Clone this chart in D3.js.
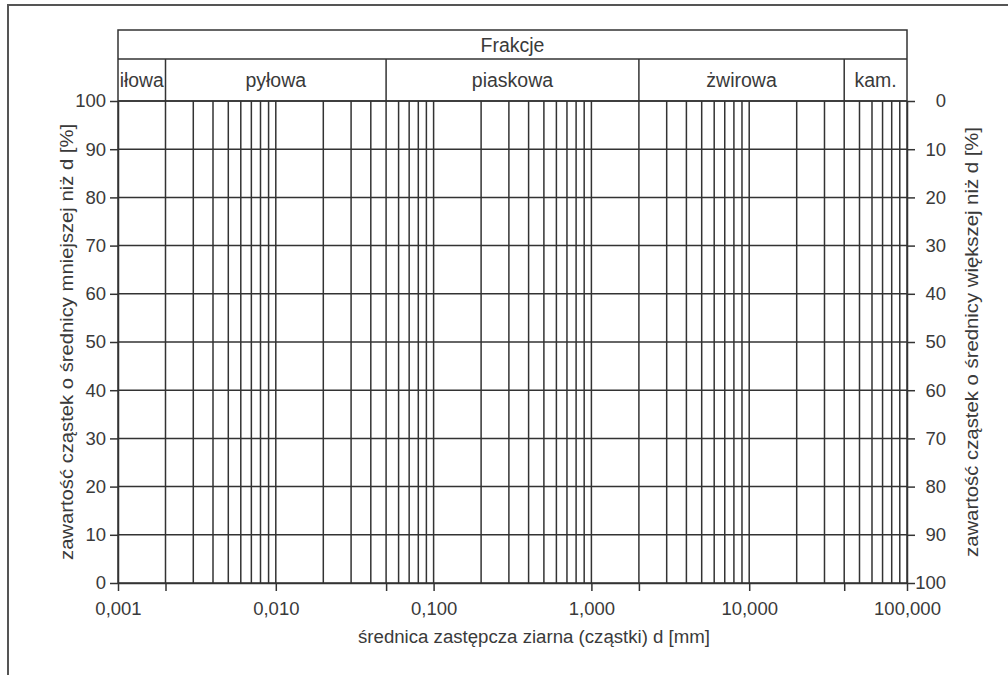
<!DOCTYPE html>
<html>
<head>
<meta charset="utf-8">
<title>Krzywa uziarnienia</title>
<script src="https://cdn.jsdelivr.net/npm/d3@7"></script>
<style>
  body { margin: 0; background: #fff; }
  text { font-family: "Liberation Sans", Arial, sans-serif; fill: #3a3a3a; }
</style>
</head>
<body>
<svg id="chart" width="1008" height="675"></svg>
<script>
// dane
var fractionNames = ["iłowa", "pyłowa", "piaskowa", "żwirowa", "kam."];
var fractionBounds = [0.001, 0.002, 0.05, 2, 40, 100];
var xTickValues = [0.001, 0.01, 0.1, 1, 10, 100];
var yTickValues = [0, 10, 20, 30, 40, 50, 60, 70, 80, 90, 100];
var headerTitle = "Frakcje";
var xTitle = "średnica zastępcza ziarna (cząstki) d [mm]";
var yTitleLeft = "zawartość cząstek o średnicy mniejszej niż d [%]";
var yTitleRight = "zawartość cząstek o średnicy większej niż d [%]";

var svg = d3.select("#chart");
var lineColor = "#333";

// ramka zewnętrzna
svg.append("rect")
   .attr("x", 8).attr("y", 5)
   .attr("width", 1100).attr("height", 800)
   .attr("fill", "none").attr("stroke", "#555").attr("stroke-width", 2);

// uwaga: "top" to window.top, stąd inne nazwy
var pLeft = 118, pRight = 907, pTop = 101, pBottom = 583;
var x = d3.scaleLog().domain([0.001, 100]).range([pLeft, pRight]);
var y = d3.scaleLinear().domain([0, 100]).range([pBottom, pTop]);
var yR = d3.scaleLinear().domain([100, 0]).range([pBottom, pTop]);

var pl = d3.formatLocale({decimal: ",", thousands: " ", grouping: [3], currency: ["", ""]});
var fmt = pl.format(".3f");

// siatka pionowa (2..9 w każdej dekadzie + dekady)
var gridX = [];
for (var e = -3; e < 2; e++) {
    for (var m = 2; m <= 9; m++) {
        gridX.push(m * Math.pow(10, e));
    }
}
gridX = gridX.concat(xTickValues);
svg.append("g").selectAll("line")
   .data(gridX)
   .enter().append("line")
   .attr("x1", function(d){ return x(d); })
   .attr("x2", function(d){ return x(d); })
   .attr("y1", pTop).attr("y2", pBottom)
   .attr("stroke", lineColor).attr("stroke-width", 1.5);

// siatka pozioma
svg.append("g").selectAll("line")
   .data(yTickValues)
   .enter().append("line")
   .attr("x1", pLeft).attr("x2", pRight)
   .attr("y1", function(d){ return y(d); })
   .attr("y2", function(d){ return y(d); })
   .attr("stroke", lineColor).attr("stroke-width", 1.5);

// osie
var xTicks = xTickValues.concat(fractionBounds.slice(1, 5));
var xAxis = svg.append("g")
   .attr("transform", "translate(0," + pBottom + ")")
   .call(d3.axisBottom(x).tickValues(xTicks).tickSize(8).tickSizeOuter(0)
         .tickFormat(function(d){ return xTickValues.indexOf(d) >= 0 ? fmt(d) : ""; }));
var yAxisL = svg.append("g")
   .attr("transform", "translate(" + pLeft + ",0)")
   .call(d3.axisLeft(y).tickValues(yTickValues).tickSize(8).tickSizeOuter(0).tickPadding(4));
var yAxisR = svg.append("g")
   .attr("transform", "translate(" + pRight + ",0)")
   .call(d3.axisRight(yR).tickValues(yTickValues).tickSize(8).tickSizeOuter(0).tickPadding(4));

[xAxis, yAxisL, yAxisR].forEach(function(a){
    a.selectAll("path, line").attr("stroke", lineColor).attr("stroke-width", 1.5);
    a.selectAll("text").attr("font-size", 18.5).attr("fill", "#3a3a3a")
     .style("font-family", "'Liberation Sans', Arial, sans-serif");
});
xAxis.selectAll("text").attr("dy", "1.15em");
yAxisR.selectAll("text").attr("text-anchor", "end").attr("x", 39);

// nagłówek frakcji
var hTop = 30, hMid = 59;
svg.append("rect")
   .attr("x", pLeft).attr("y", hTop)
   .attr("width", pRight - pLeft).attr("height", pTop - hTop)
   .attr("fill", "none").attr("stroke", lineColor).attr("stroke-width", 1.5);
svg.append("line")
   .attr("x1", pLeft).attr("x2", pRight).attr("y1", hMid).attr("y2", hMid)
   .attr("stroke", lineColor).attr("stroke-width", 1.5);
svg.append("text")
   .attr("x", (pLeft + pRight) / 2).attr("y", (hTop + hMid) / 2 + 7)
   .attr("text-anchor", "middle").attr("font-size", 19.5)
   .text(headerTitle);

svg.append("g").selectAll("line")
   .data(fractionBounds.slice(1, 5))
   .enter().append("line")
   .attr("x1", function(d){ return x(d); })
   .attr("x2", function(d){ return x(d); })
   .attr("y1", hMid).attr("y2", pTop)
   .attr("stroke", lineColor).attr("stroke-width", 1.5);

svg.append("g").selectAll("text")
   .data(fractionNames)
   .enter().append("text")
   .attr("x", function(d, i){ return (x(fractionBounds[i]) + x(fractionBounds[i + 1])) / 2; })
   .attr("y", (hMid + pTop) / 2 + 7)
   .attr("text-anchor", "middle").attr("font-size", 19.5)
   .attr("textLength", function(d, i){ return i === 0 ? 44 : null; })
   .attr("lengthAdjust", "spacingAndGlyphs")
   .text(function(d){ return d; });

// tytuły osi
svg.append("text")
   .attr("x", 534).attr("y", 643)
   .attr("text-anchor", "middle").attr("font-size", 18)
   .attr("textLength", 352).attr("lengthAdjust", "spacingAndGlyphs")
   .text(xTitle);
svg.append("text")
   .attr("transform", "translate(73," + (pTop + pBottom) / 2 + ") rotate(-90)")
   .attr("text-anchor", "middle").attr("font-size", 18)
   .attr("textLength", 436).attr("lengthAdjust", "spacingAndGlyphs")
   .text(yTitleLeft);
svg.append("text")
   .attr("transform", "translate(978," + (pTop + pBottom) / 2 + ") rotate(-90)")
   .attr("text-anchor", "middle").attr("font-size", 18)
   .attr("textLength", 430).attr("lengthAdjust", "spacingAndGlyphs")
   .text(yTitleRight);
</script>
</body>
</html>
